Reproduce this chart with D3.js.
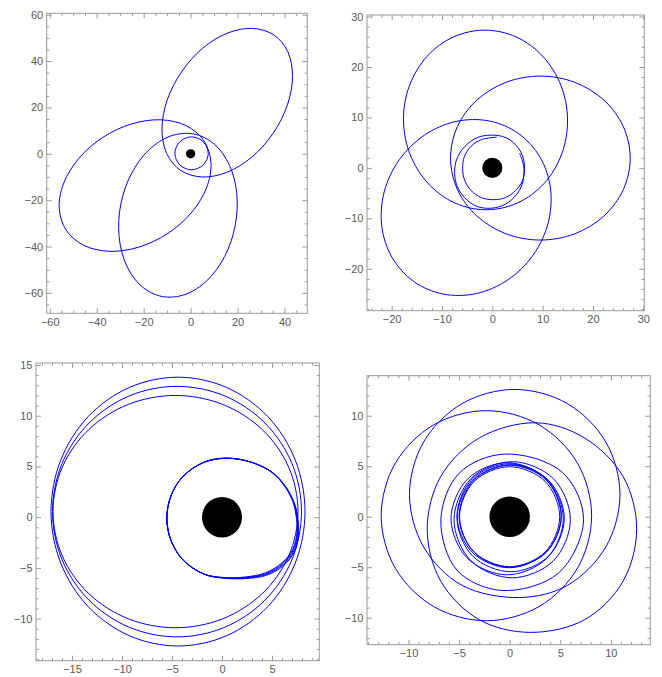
<!DOCTYPE html>
<html><head><meta charset="utf-8">
<script src="https://cdn.jsdelivr.net/npm/d3@7"></script>
<style>html,body{margin:0;padding:0;background:#fff}svg{display:block}</style>
</head><body>
<script>
// ---------- DATA ----------
// Panel 1
const p1XTicks = [-60,-40,-20,0,20,40];
const p1YTicks = [-60,-40,-20,0,20,40,60];
const p1XRange = [-61.3, 49.7];
const p1YRange = [-68.8, 60.6];
const p1LoopA = [[35.4,51.3],[26.4,54.1],[15.8,52.1],[5.1,45.5],[-3.9,35.3],[-10.0,23.1],[-12.2,10.7],[-10.2,0.1],[-4.2,-7.2],[4.8,-10.0],[15.4,-8.0],[26.1,-1.4],[35.1,8.8],[41.2,21.0],[43.4,33.4],[41.4,44.0]];
const p1LoopB = [[5.65,5.62],[-1.83,12.11],[-12.62,14.66],[-25.11,12.9],[-37.36,7.09],[-47.53,-1.88],[-54.06,-12.66],[-55.97,-23.59],[-52.95,-33.02],[-45.47,-39.51],[-34.68,-42.06],[-22.19,-40.3],[-9.94,-34.49],[0.23,-25.52],[6.76,-14.74],[8.67,-3.81]];
const p1LoopC = [[1.35,8.56],[-8.48,7.68],[-17.85,1.61],[-25.32,-8.75],[-29.75,-21.81],[-30.48,-35.59],[-27.39,-47.97],[-20.96,-57.1],[-12.15,-61.56],[-2.32,-60.68],[7.05,-54.61],[14.52,-44.25],[18.95,-31.19],[19.68,-17.41],[16.59,-5.03],[10.16,4.1]];
const p1Inner = [[7.5,0.2],[5.4,5.2],[0.4,7.3],[-4.6,5.2],[-6.7,0.2],[-4.6,-4.8],[0.4,-6.9],[5.4,-4.8]];

// Panel 2
const p2XTicks = [-20,-10,0,10,20,30];
const p2YTicks = [-20,-10,0,10,20,30];
const p2XRange = [-24.9, 30.2];
const p2YRange = [-28.3, 30.3];
const p2LoopTop = [[-2.28,27.28],[-8.44,25.6],[-13.52,21.47],[-16.75,15.51],[-17.63,8.65],[-16.03,1.91],[-12.2,-3.67],[-6.72,-7.26],[-0.42,-8.28],[5.74,-6.6],[10.82,-2.47],[14.05,3.49],[14.93,10.35],[13.33,17.09],[9.5,22.67],[4.02,26.26]];
const p2LoopRight = [[27.4,1.95],[26.04,8.17],[22.17,13.44],[16.38,16.96],[9.55,18.2],[2.72,16.96],[-3.07,13.44],[-6.94,8.17],[-8.3,1.95],[-6.94,-4.27],[-3.07,-9.54],[2.72,-13.06],[9.55,-14.3],[16.38,-13.06],[22.17,-9.54],[26.04,-4.27]];
const p2LoopBL = [[5.22,6.81],[-0.66,9.31],[-7.23,9.2],[-13.5,6.49],[-18.5,1.6],[-21.48,-4.73],[-21.97,-11.54],[-19.92,-17.77],[-15.62,-22.51],[-9.74,-25.01],[-3.17,-24.9],[3.1,-22.19],[8.1,-17.3],[11.08,-10.97],[11.57,-4.16],[9.52,2.07]];
const p2Spiral = [[0.9,6.1],[-2.15,5.6],[-4.2,4.3],[-5.55,2.25],[-5.9,-0.1],[-5.5,-2.45],[-4.2,-4.5],[-2.15,-5.9],[0.2,-6.3],[2.6,-5.9],[4.6,-4.5],[6.0,-2.5],[6.4,-0.1],[6.0,2.4],[4.7,4.5],[2.7,6.0],[-0.2,6.5],[-3.0,6.0],[-5.4,4.3],[-7.0,1.9],[-7.5,-0.9],[-7.0,-3.6],[-5.5,-5.9],[-3.1,-7.6],[-0.3,-8.0],[2.6,-7.2],[4.8,-5.3],[6.0,-3.0],[6.3,-0.4],[5.9,1.7],[5.4,2.9]];

// Panel 3
const p3XTicks = [-15,-10,-5,0,5];
const p3YTicks = [-10,-5,0,5,10,15];
const p3XRange = [-18.6, 9.73];
const p3YRange = [-14.15, 15.2];
const p3Big1 = [[8.3,0.55],[7.33,5.62],[4.58,9.92],[0.46,12.79],[-4.4,13.8],[-9.26,12.79],[-13.38,9.92],[-16.13,5.62],[-17.1,0.55],[-16.13,-4.52],[-13.38,-8.82],[-9.26,-11.69],[-4.4,-12.7],[0.46,-11.69],[4.58,-8.82],[7.33,-4.52]];
const p3Big2 = [[7.95,0.55],[7.0,5.28],[4.3,9.28],[0.26,11.96],[-4.5,12.9],[-9.26,11.96],[-13.3,9.28],[-16.0,5.28],[-16.95,0.55],[-16.0,-4.18],[-13.3,-8.18],[-9.26,-10.86],[-4.5,-11.8],[0.26,-10.86],[4.3,-8.18],[7.0,-4.18]];
const p3Big3 = [[7.6,0.55],[6.67,4.93],[4.01,8.65],[0.04,11.13],[-4.65,12.0],[-9.34,11.13],[-13.31,8.65],[-15.97,4.93],[-16.9,0.55],[-15.97,-3.83],[-13.31,-7.55],[-9.34,-10.03],[-4.65,-10.9],[0.04,-10.03],[4.01,-7.55],[6.67,-3.83]];
const p3Inner1 = [[0.5,5.8],[3.0,5.4],[5.0,4.4],[6.3,3.0],[7.1,1.5],[7.4,0.2],[7.5,-1.4],[7.1,-3.1],[6.0,-4.5],[4.3,-5.5],[2.3,-5.9],[0.3,-5.95],[-1.8,-5.6],[-3.9,-4.2],[-5.1,-2.3],[-5.5,-0.1],[-5.1,2.1],[-3.9,4.0],[-1.8,5.4]];
const p3Inner2 = [[0.5,5.81],[3.02,5.39],[5.05,4.38],[6.36,2.95],[7.16,1.43],[7.46,0.11],[7.55,-1.5],[7.15,-3.2],[6.05,-4.59],[4.35,-5.58],[2.33,-5.95],[0.3,-5.98],[-1.8,-5.61],[-3.9,-4.21],[-5.1,-2.3],[-5.51,-0.1],[-5.1,2.11],[-3.9,4.01],[-1.8,5.41]];
const p3Inner3 = [[0.51,5.82],[3.05,5.38],[5.1,4.35],[6.42,2.9],[7.22,1.35],[7.52,0.02],[7.6,-1.6],[7.2,-3.3],[6.1,-4.68],[4.4,-5.65],[2.35,-6.0],[0.3,-6.0],[-1.8,-5.62],[-3.9,-4.22],[-5.1,-2.3],[-5.52,-0.1],[-5.1,2.12],[-3.9,4.02],[-1.8,5.42]];
const p3Inner4 = [[0.52,5.83],[3.08,5.37],[5.15,4.33],[6.48,2.85],[7.28,1.28],[7.58,-0.07],[7.65,-1.7],[7.25,-3.4],[6.15,-4.77],[4.45,-5.73],[2.38,-6.05],[0.3,-6.03],[-1.8,-5.63],[-3.9,-4.23],[-5.1,-2.3],[-5.53,-0.1],[-5.1,2.13],[-3.9,4.03],[-1.8,5.43]];

// Panel 4
const p4XTicks = [-10,-5,0,5,10];
const p4YTicks = [-10,-5,0,5,10];
const p4XRange = [-14.1, 13.9];
const p4YRange = [-12.67, 13.96];
const p4LoopA = [[10.9,2.2],[9.5,7.4],[5.7,11.2],[0.5,12.6],[-4.7,11.2],[-8.5,7.4],[-9.9,2.2],[-8.5,-3.0],[-4.7,-6.8],[1.0,-8.0],[5.7,-6.8],[9.5,-3.0]];
const p4LoopB = [[8.1,0.1],[6.7,5.3],[2.9,9.1],[-2.3,10.5],[-7.5,9.1],[-11.3,5.3],[-12.7,0.1],[-11.3,-5.1],[-7.5,-8.9],[-2.3,-10.3],[2.9,-8.9],[6.7,-5.1]];
const p4LoopC = [[12.55,-1.2],[11.2,4.0],[7.4,7.8],[2.6,9.3],[-3.0,7.8],[-6.8,4.0],[-8.15,-1.2],[-6.8,-6.4],[-3.0,-10.2],[2.0,-11.45],[7.4,-10.2],[11.2,-6.4]];
const p4LoopD = [[7.3,-0.3],[5.2,4.4],[-0.5,6.2],[-5.0,4.3],[-6.8,-0.3],[-5.2,-5.3],[-0.8,-7.3],[4.8,-5.6]];
const p4Inner1 = [[4.95,0],[3.5,3.5],[0,4.95],[-3.5,3.5],[-4.95,0],[-3.5,-3.5],[0,-4.95],[3.5,-3.5]];
const p4Inner2 = [[5.1,0.05],[3.62,3.62],[0.05,5.1],[-3.52,3.62],[-5.0,0.05],[-3.52,-3.52],[0.05,-5.0],[3.62,-3.52]];
const p4Inner3 = [[5.1,0.1],[3.59,3.74],[-0.05,5.25],[-3.69,3.74],[-5.2,0.1],[-3.69,-3.54],[-0.05,-5.05],[3.59,-3.54]];
const p4Inner4 = [[5.4,-0.15],[3.85,3.6],[0.1,5.15],[-3.65,3.6],[-5.2,-0.15],[-3.65,-3.9],[0.1,-5.45],[3.85,-3.9]];
const p4Inner5 = [[5.3,-0.2],[3.67,3.72],[-0.25,5.35],[-4.17,3.72],[-5.8,-0.2],[-4.17,-4.12],[-0.25,-5.75],[3.67,-4.12]];
const p4Inner6 = [[6.0,-0.3],[4.32,3.77],[0.25,5.45],[-3.82,3.77],[-5.5,-0.3],[-3.82,-4.37],[0.25,-6.05],[4.32,-4.37]];

const holeRadius = 2;

// ---------- LAYOUT ----------
const panels = [
  {frame:[46.7,307.3,13.3,313.3], xr:p1XRange, yr:p1YRange, xt:p1XTicks, yt:p1YTicks, minor:5,
   closed:[p1LoopA,p1LoopB,p1LoopC,p1Inner], open:[]},
  {frame:[367,644.3,15,310.7], xr:p2XRange, yr:p2YRange, xt:p2XTicks, yt:p2YTicks, minor:2,
   closed:[p2LoopTop,p2LoopRight,p2LoopBL], open:[p2Spiral]},
  {frame:[36,319.3,363,660.7], xr:p3XRange, yr:p3YRange, xt:p3XTicks, yt:p3YTicks, minor:1,
   closed:[p3Big1,p3Big2,p3Big3,p3Inner1,p3Inner2,p3Inner3,p3Inner4], open:[]},
  {frame:[367,650.3,375.7,644.7], xr:p4XRange, yr:p4YRange, xt:p4XTicks, yt:p4YTicks, minor:1,
   closed:[p4LoopA,p4LoopB,p4LoopC,p4LoopD,p4Inner1,p4Inner2,p4Inner3,p4Inner4,p4Inner5,p4Inner6], open:[]}
];

const svg = d3.select("body").append("svg").attr("width",662).attr("height",677);
svg.append("rect").attr("width",662).attr("height",677).attr("fill","#fff");

const FRAME = "#9a9a9a", LABEL = "#5a5a5a";
const fmt = d3.format("");

panels.forEach(p => {
  const [l,r,t,b] = p.frame;
  const x = d3.scaleLinear().domain(p.xr).range([l,r]);
  const y = d3.scaleLinear().domain(p.yr).range([b,t]);
  const g = svg.append("g");

  const minorX = d3.range(Math.ceil(p.xr[0]/p.minor)*p.minor, p.xr[1]+1e-9, p.minor).filter(v=>!p.xt.includes(v));
  const minorY = d3.range(Math.ceil(p.yr[0]/p.minor)*p.minor, p.yr[1]+1e-9, p.minor).filter(v=>!p.yt.includes(v));

  const addAxis = (axisFn, scale, vals, size, labels, tr, pad) => {
    const a = axisFn(scale).tickValues(vals).tickSize(size).tickSizeOuter(0).tickPadding(pad)
      .tickFormat(labels ? fmt : () => "");
    const ag = g.append("g").attr("transform", tr).call(a);
    ag.select(".domain").remove();
    ag.selectAll("line").attr("stroke", FRAME).attr("stroke-width", 1);
    ag.selectAll("text").attr("fill", LABEL).style("font-family","'Liberation Sans', Arial, sans-serif").style("font-size","11px");
  };
  addAxis(d3.axisBottom, x, p.xt, -5, true, `translate(0,${b})`, 5);
  addAxis(d3.axisBottom, x, minorX, -2.7, false, `translate(0,${b})`, 5);
  addAxis(d3.axisTop, x, p.xt, -5, false, `translate(0,${t})`, 5);
  addAxis(d3.axisTop, x, minorX, -2.7, false, `translate(0,${t})`, 5);
  addAxis(d3.axisLeft, y, p.yt, -5, true, `translate(${l},0)`, 3.5);
  addAxis(d3.axisLeft, y, minorY, -2.7, false, `translate(${l},0)`, 3.5);
  addAxis(d3.axisRight, y, p.yt, -5, false, `translate(${r},0)`, 3);
  addAxis(d3.axisRight, y, minorY, -2.7, false, `translate(${r},0)`, 3);

  g.append("rect").attr("x",l).attr("y",t).attr("width",r-l).attr("height",b-t)
    .attr("fill","none").attr("stroke",FRAME).attr("stroke-width",1);

  const closedLine = d3.line().x(d=>x(d[0])).y(d=>y(d[1])).curve(d3.curveCatmullRomClosed.alpha(0.5));
  const openLine = d3.line().x(d=>x(d[0])).y(d=>y(d[1])).curve(d3.curveCatmullRom.alpha(0.5));
  g.selectAll("path.orbit").data(p.closed).join("path").attr("class","orbit")
    .attr("d", closedLine).attr("fill","none").attr("stroke","#0000ff").attr("stroke-width",1);
  g.selectAll("path.orbitOpen").data(p.open).join("path").attr("class","orbitOpen")
    .attr("d", openLine).attr("fill","none").attr("stroke","#0000ff").attr("stroke-width",1);

  g.append("ellipse").attr("cx", x(0)).attr("cy", y(0))
    .attr("rx", Math.abs(x(holeRadius)-x(0))).attr("ry", Math.abs(y(holeRadius)-y(0)))
    .attr("fill","#000");
});
</script>
</body></html>
